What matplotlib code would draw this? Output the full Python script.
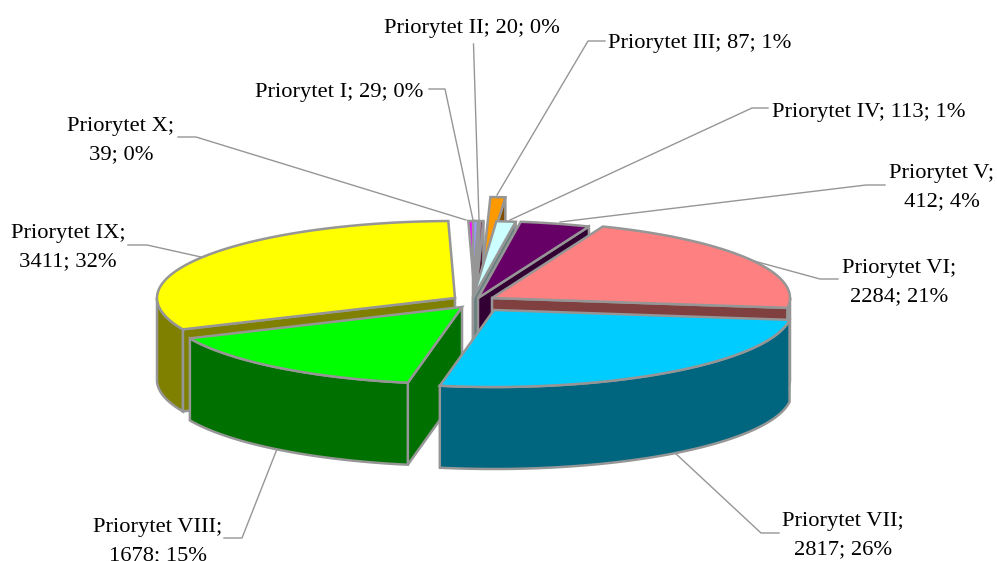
import numpy as np
import matplotlib
matplotlib.use('Agg')
import matplotlib.pyplot as plt
from matplotlib.patches import Polygon

names = ['Priorytet I', 'Priorytet II', 'Priorytet III', 'Priorytet IV', 'Priorytet V',
         'Priorytet VI', 'Priorytet VII', 'Priorytet VIII', 'Priorytet IX', 'Priorytet X']
values = [29, 20, 87, 113, 412, 2284, 2817, 1678, 3411, 39]
percents = [0, 0, 1, 1, 4, 21, 26, 15, 32, 0]

top_colors = ['#9999FF', '#993366', '#FF9900', '#CCFFFF', '#660066',
              '#FF8080', '#00CCFF', '#00FF00', '#FFFF00', '#FF00FF']
wall_colors = ['#4D4D80', '#4D1A33', '#804D00', '#668080', '#330033',
               '#804040', '#006680', '#007000', '#808000', '#800080']

# how far each slice is pulled out of the pie, in pixels
offsets = [(0, 0), (2, 0), (9, -24), (0, 0), (5, 0),
           (19, 0), (21, 12), (-11, 9), (-18, 0), (2, 0)]

# back to front
draw_order = [8, 9, 0, 1, 2, 3, 4, 5, 7, 6]

cx, cy = 473, 298
rx, ry = 298, 77
depth = 82
edge = '#969696'

# label line breaks, centre of label, leader line
label_breaks = ['; ', '; ', '; ', '; ', ';\n', ';\n', ';\n', ';\n', ';\n', ';\n']
label_pos = [(339.5, 92), (472, 28), (700, 43), (868.5, 112), (941.5, 187.5),
             (899, 282.5), (843, 535.5), (157.5, 541.5), (68, 248), (121, 140.5)]
leaders = [
    [(429, 89), (445, 89), (473, 220)],
    [(473.5, 44), (479, 220)],
    [(605, 41), (588, 41), (497, 195)],
    [(768, 108), (752, 108), (510, 220)],
    [(885, 185), (866, 185), (560, 222)],
    [(838, 279), (820, 279), (743, 258)],
    [(779, 533), (761, 533), (674, 452)],
    [(224, 538), (242, 538), (277, 449)],
    [(128, 245), (147, 245), (201, 257)],
    [(178, 137), (196, 137), (466, 220)],
]

fig = plt.figure(figsize=(9.97, 5.61), dpi=100)
ax = fig.add_axes([0, 0, 1, 1])
ax.set_xlim(0, 997)
ax.set_ylim(561, 0)
ax.axis('off')

# slice angles, clockwise from the top
shares = np.array(values) / sum(values) * 360
ends = np.cumsum(shares)
starts = ends - shares


def rim(a1, a2, ox, oy):
    t = np.radians(np.linspace(a1, a2, max(int(abs(a2 - a1)) * 2, 2)))
    return np.column_stack((cx + ox + rx * np.sin(t), cy + oy - ry * np.cos(t)))


z = 2
for i in draw_order:
    ox, oy = offsets[i]
    a1, a2 = starts[i], ends[i]
    apex = np.array([[cx + ox, cy + oy]])
    drop = np.array([0, depth])
    polys = []
    # only the cut face turned towards the viewer is drawn
    face = a1 if np.sin(np.radians(a1)) < 0 else None
    if np.sin(np.radians(a2)) > 0:
        face = a2
    if face is not None:
        p = rim(face, face, ox, oy)[:1]
        polys.append((np.vstack((apex, p, p + drop, apex + drop)), wall_colors[i]))
    f1, f2 = max(a1, 90), min(a2, 270)
    if f2 > f1:
        r = rim(f1, f2, ox, oy)
        polys.append((np.vstack((r, (r + drop)[::-1])), wall_colors[i]))
    polys.append((np.vstack((apex, rim(a1, a2, ox, oy))), top_colors[i]))
    for pts, col in polys:
        ax.add_patch(Polygon(pts, closed=True, facecolor=col, edgecolor=edge,
                             linewidth=1.8, joinstyle='miter', zorder=z))
        z += 1

for i in range(len(values)):
    xs, ys = zip(*leaders[i])
    ax.plot(xs, ys, color=edge, lw=1.0, zorder=1)
    text = f'{names[i]}{label_breaks[i]}{values[i]}; {percents[i]}%'
    ax.text(label_pos[i][0], label_pos[i][1], text, ha='center', va='center',
            family='Liberation Serif', fontsize=16.2, linespacing=1.66,
            color='black', zorder=50)

fig.savefig('out.png', dpi=100)
